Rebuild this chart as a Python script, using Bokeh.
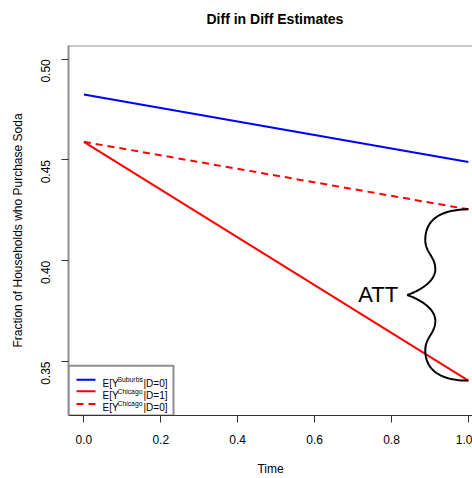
import math
import numpy as np
from bokeh.plotting import figure
from bokeh.models import Range1d, FixedTicker, Span, Label, Title
from bokeh.core.properties import value
from bokeh.embed import file_html
from bokeh.resources import INLINE

# ---------------- data ----------------
times = [0.0, 1.0]
suburbs_d0 = [0.4825, 0.4490]
chicago_d1 = [0.4590, 0.3405]
chicago_d0 = [0.4590, 0.4255]

x_ticks = [0.0, 0.2, 0.4, 0.6, 0.8, 1.0]
x_tick_labels = ["0.0", "0.2", "0.4", "0.6", "0.8", "1.0"]
y_ticks = [0.35, 0.40, 0.45, 0.50]
y_tick_labels = ["0.35", "0.40", "0.45", "0.50"]

title_text = "Diff in Diff Estimates"
x_label = "Time"
y_label = "Fraction of Households who Purchase Soda"
att_text = "ATT"
legend_base = ["E[Y", "E[Y", "E[Y"]
legend_sup = ["Suburbs", "Chicago", "Chicago"]
legend_tail = ["|D=0]", "|D=1]", "|D=0]"]
legend_colors = ["#0000ff", "#ff0000", "#ff0000"]
legend_dash = ["solid", "solid", "7 5"]

FONT = "Liberation Sans"
GRAY = "#8f8f8f"

W, H = 472, 478
LEFT, TOP, BOTTOM = 68, 45, 61
xlim = (0.0, 1.0)
ylim = (0.33, 0.50)
xpad = 0.04 * (xlim[1] - xlim[0])
ypad = 0.04 * (ylim[1] - ylim[0])
x0, x1 = xlim[0] - xpad, 1.0107
y0, y1 = ylim[0] - ypad, ylim[1] + ypad
ppx = (W - LEFT) / (x1 - x0)          # pixels per x unit
ppy = (H - TOP - BOTTOM) / (y1 - y0)  # pixels per y unit

p = figure(width=W, height=H, output_backend="svg", toolbar_location=None,
           x_range=Range1d(x0, x1), y_range=Range1d(y0, y1),
           min_border_left=LEFT, min_border_right=0, min_border_top=TOP, min_border_bottom=BOTTOM)
p.outline_line_color = None
p.grid.visible = False
p.background_fill_color = "white"
p.border_fill_color = "white"

# title: a blank second line lifts the visible line away from the frame
p.add_layout(Title(text=title_text + "\n ", align="left", offset=138, standoff=6,
                   text_font=FONT, text_font_size="14px", text_font_style="bold",
                   text_color="black"), "above")

# x axis
xa = p.xaxis[0]
xa.ticker = FixedTicker(ticks=x_ticks)
xa.major_label_overrides = {t: l for t, l in zip(x_ticks, x_tick_labels)}
xa.minor_tick_line_color = None
xa.major_tick_in = 0
xa.major_tick_out = 7
xa.major_tick_line_color = "#333333"
xa.axis_line_color = "#333333"
xa.axis_line_width = 1
xa.major_label_standoff = 12
xa.major_label_text_font = FONT
xa.major_label_text_font_size = "12px"
xa.major_label_text_color = "black"
xa.axis_label = x_label
xa.axis_label_text_font = FONT
xa.axis_label_text_font_size = "12px"
xa.axis_label_text_font_style = "normal"
xa.axis_label_text_color = "black"
xa.axis_label_standoff = 15

# y axis
ya = p.yaxis[0]
ya.ticker = FixedTicker(ticks=y_ticks)
ya.major_label_overrides = {t: l for t, l in zip(y_ticks, y_tick_labels)}
ya.minor_tick_line_color = None
ya.major_tick_in = 0
ya.major_tick_out = 7
ya.major_tick_line_color = "#333333"
ya.axis_line_color = GRAY
ya.axis_line_width = 2
ya.major_label_orientation = math.pi / 2
ya.major_label_standoff = 16
ya.major_label_text_font = FONT
ya.major_label_text_font_size = "12px"
ya.major_label_text_color = "black"
ya.axis_label = y_label
ya.axis_label_text_font = FONT
ya.axis_label_text_font_size = "12px"
ya.axis_label_text_font_style = "normal"
ya.axis_label_text_color = "black"
ya.axis_label_standoff = 9

# top border
p.add_layout(Span(location=y1, dimension="width", line_color=GRAY, line_width=2))

# lines
p.line(times, suburbs_d0, line_color=legend_colors[0], line_width=2)
p.line(times, chicago_d1, line_color=legend_colors[1], line_width=2)
p.line(times, chicago_d0, line_color=legend_colors[2], line_width=2, line_dash=legend_dash[2])

# brace (shape in normalized units: u = leftward fraction of depth, v = fraction of half height)
segs = [
    [(0.0, 0.0), (0.39, 0.0), (0.705, 0.092), (0.705, 0.356)],
    [(0.705, 0.356), (0.705, 0.506), (0.541, 0.552), (0.541, 0.70)],
    [(0.541, 0.70), (0.541, 0.805), (0.689, 0.92), (1.0, 1.0)],
]
t = np.linspace(0, 1, 40)[:, None]
pts = []
for s in segs:
    P = [np.array(c) for c in s]
    pts.append((1 - t) ** 3 * P[0] + 3 * (1 - t) ** 2 * t * P[1] + 3 * (1 - t) * t ** 2 * P[2] + t ** 3 * P[3])
upper = np.vstack(pts)
lower = upper[::-1].copy()
lower[:, 1] = 2.0 - lower[:, 1]
uv = np.vstack([upper, lower])
depth = 0.159
y_top = chicago_d0[-1]
y_bot = chicago_d1[-1]
half = (y_top - y_bot) / 2.0
bx = times[-1] - uv[:, 0] * depth
by = y_top - uv[:, 1] * half
p.line(bx, by, line_color="black", line_width=2)

p.add_layout(Label(x=times[-1] - depth, y=(y_top + y_bot) / 2.0, x_offset=-9, text=att_text,
                   text_align="right", text_baseline="middle", text_font=FONT,
                   text_font_size="22px", text_color="black"))

# legend (drawn by hand so the superscripts can be kept): box anchored at bottom-left of frame
box_w, box_h = 105, 50
p.quad(left=[x0], right=[x0 + box_w / ppx], bottom=[y0], top=[y0 + box_h / ppy],
       fill_color="white", line_color=GRAY, line_width=2)
row_px = [36, 24.5, 11.5]      # sample line heights above frame bottom
base_px = [32, 20.5, 8.5]      # text baselines above frame bottom
for i in range(3):
    yy = y0 + row_px[i] / ppy
    p.segment(x0=[x0 + 8 / ppx], x1=[x0 + 27 / ppx], y0=[yy], y1=[yy],
              line_color=legend_colors[i], line_width=2, line_dash=legend_dash[i])
    yb = y0 + base_px[i] / ppy
    p.text(x=[x0 + 34 / ppx], y=[yb], text=[legend_base[i]], text_baseline="alphabetic",
           text_font=value(FONT), text_font_size="10px", text_color="black")
    p.text(x=[x0 + 49 / ppx], y=[yb + 4 / ppy], text=[legend_sup[i]], text_baseline="alphabetic",
           text_font=value(FONT), text_font_size="6.8px", text_color="black")
    p.text(x=[x0 + 75 / ppx], y=[yb], text=[legend_tail[i]], text_baseline="alphabetic",
           text_font=value(FONT), text_font_size="10px", text_color="black")

open("out.html", "w").write(file_html(p, INLINE))
